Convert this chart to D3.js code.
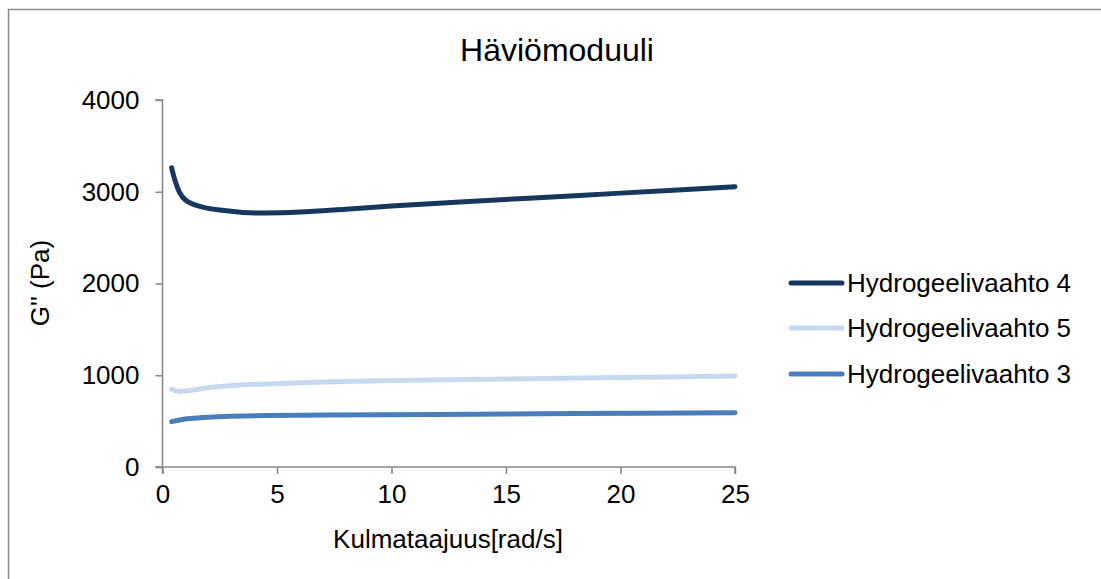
<!DOCTYPE html>
<html><head><meta charset="utf-8">
<script src="https://cdn.jsdelivr.net/npm/d3@7"></script>
<style>body{margin:0;background:#fff;overflow:hidden;}svg{display:block;font-family:"Liberation Sans",Arial,sans-serif;}</style>
</head><body>
<svg id="c" width="1101" height="579"></svg>
<script>
const title = "Häviömoduuli";
const xTitle = "Kulmataajuus[rad/s]";
const yTitle = "G'' (Pa)";
const xTicks = [0, 5, 10, 15, 20, 25];
const yTicks = [0, 1000, 2000, 3000, 4000];
const seriesNames = ["Hydrogeelivaahto 4", "Hydrogeelivaahto 5", "Hydrogeelivaahto 3"];
const seriesColors = ["#17375E", "#C6D9F1", "#4A7EBB"];
const x4 = [0.4, 0.55, 0.75, 1.0, 1.3, 1.8, 2.5, 3.5, 4.5, 6, 8, 10, 16, 20, 25];
const y4 = [3262, 3120, 2990, 2910, 2868, 2830, 2800, 2775, 2768, 2778, 2810, 2845, 2930, 2985, 3055];
const x5 = [0.4, 0.7, 1.0, 1.6, 2.4, 3.4, 4.6, 7.5, 10, 16, 20, 25];
const y5 = [848, 822, 828, 850, 875, 894, 905, 930, 942, 962, 975, 992];
const x3 = [0.4, 0.8, 1.2, 2, 3, 4.5, 7.3, 12, 18, 25];
const y3 = [494, 515, 528, 542, 552, 560, 566, 573, 582, 592];

const svg = d3.select("#c");
svg.append("path").attr("d", "M8.5,600V9.5H1120").attr("fill", "none")
  .attr("stroke", "#8c8c8c").attr("stroke-width", 1.5);

const x = d3.scaleLinear().domain([0, 25]).range([162.5, 735]);
const y = d3.scaleLinear().domain([0, 4000]).range([467, 100]);
const axisColor = "#868686";

const gx = svg.append("g").attr("transform", "translate(0,467)")
  .call(d3.axisBottom(x).tickValues(xTicks).tickSize(7).tickPadding(11).tickFormat(d3.format("d")));
const gy = svg.append("g").attr("transform", "translate(162.5,0)")
  .call(d3.axisLeft(y).tickValues(yTicks).tickSize(7).tickPadding(16).tickFormat(d3.format("d")));
[gx, gy].forEach(g => {
  g.select(".domain").attr("stroke", axisColor).attr("stroke-width", 1.5);
  g.selectAll(".tick line").attr("stroke", axisColor).attr("stroke-width", 1.5);
  g.selectAll(".tick text").attr("fill", "#000").style("font-size", "26px")
    .style("font-family", "'Liberation Sans',Arial,sans-serif");
});
gy.select(".domain").attr("d", "M-7,467H0V100H-7");
gx.select(".domain").attr("d", "M162.5,7V0H735V7");

const line = d3.line().x(d => x(d[0])).y(d => y(d[1])).curve(d3.curveCatmullRom.alpha(0.5));
const data = [[x4, y4], [x5, y5], [x3, y3]];
const order = [1, 2, 0];
order.forEach(i => {
  const pts = data[i][0].map((v, j) => [v, data[i][1][j]]);
  svg.append("path").datum(pts).attr("d", line).attr("fill", "none")
    .attr("stroke", seriesColors[i]).attr("stroke-width", 5).attr("stroke-linecap", "round")
    .attr("stroke-linejoin", "round");
});

svg.append("text").attr("x", 557).attr("y", 61).attr("text-anchor", "middle")
  .style("font-size", "32px").text(title);
svg.append("text").attr("x", 448).attr("y", 548).attr("text-anchor", "middle")
  .style("font-size", "26px").text(xTitle);
svg.append("text").attr("transform", "translate(49,283) rotate(-90)").attr("text-anchor", "middle")
  .style("font-size", "26px").text(yTitle);

const legY = [283, 328, 374];
seriesNames.forEach((n, i) => {
  svg.append("line").attr("x1", 791).attr("x2", 842).attr("y1", legY[i]).attr("y2", legY[i])
    .attr("stroke", seriesColors[i]).attr("stroke-width", 5).attr("stroke-linecap", "round");
  svg.append("text").attr("x", 847).attr("y", legY[i]).attr("dy", "0.35em")
    .style("font-size", "26px").text(n);
});
</script>
</body></html>
